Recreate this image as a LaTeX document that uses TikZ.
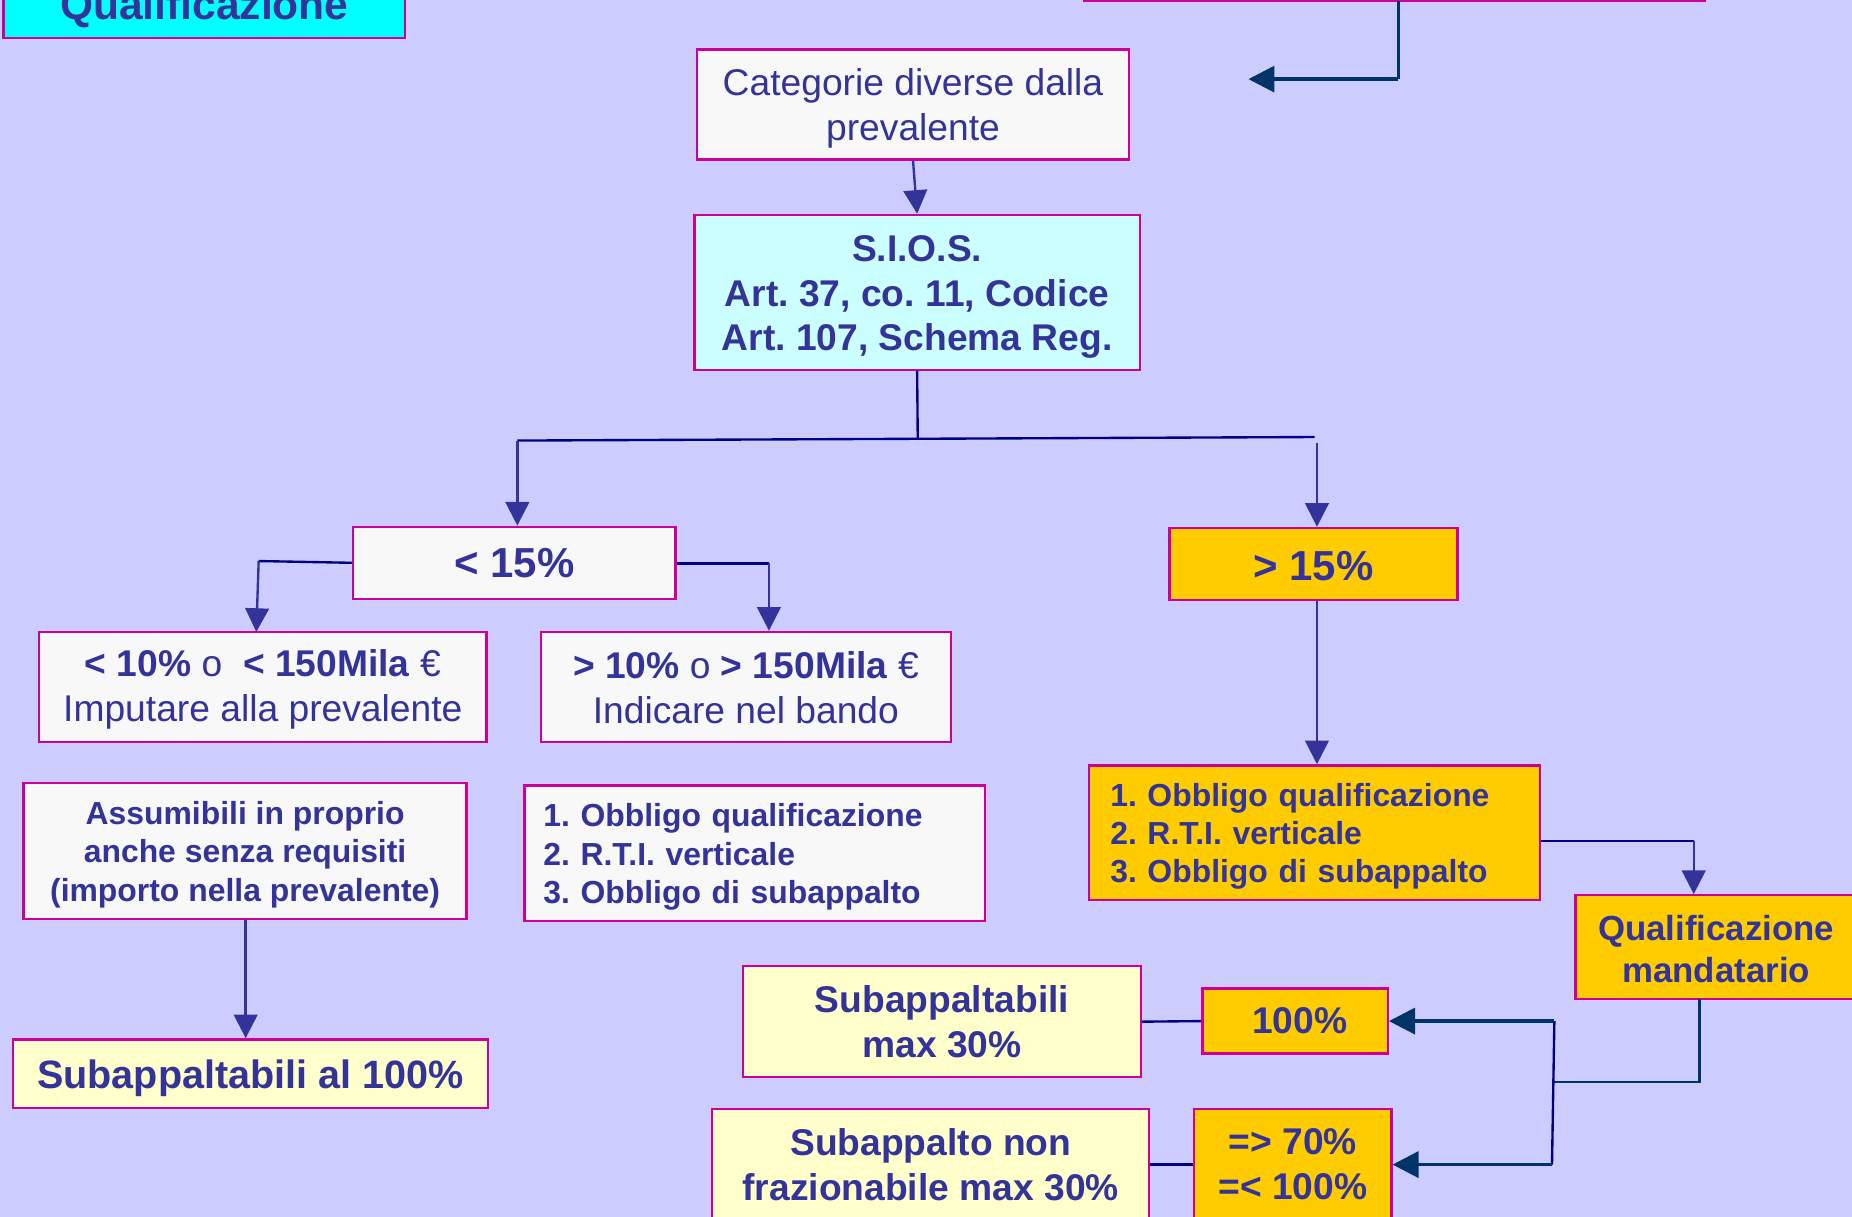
\documentclass[tikz,border=0pt]{standalone}
\usepackage{fontspec}
\setmainfont{Liberation Sans}
\usetikzlibrary{arrows.meta}
\definecolor{bgc}{RGB}{204,204,255}
\definecolor{txtc}{RGB}{51,51,153}
\definecolor{bordc}{RGB}{204,0,153}
\definecolor{whtc}{RGB}{248,248,248}
\definecolor{cyanl}{RGB}{204,255,255}
\definecolor{cyanf}{RGB}{0,255,255}
\definecolor{orgc}{RGB}{255,204,0}
\definecolor{ylwc}{RGB}{255,255,204}
\definecolor{arrc}{RGB}{51,51,153}
\definecolor{linec}{RGB}{0,0,128}
\definecolor{navyc}{RGB}{0,51,102}
\newcommand\myfR{\fontsize{31.5}{38}\selectfont}
\newcommand\myfB{\fontsize{31.5}{38}\selectfont\bfseries}
\newcommand\myfBig{\fontsize{33.5}{40}\selectfont\bfseries}
\newcommand\myfSi{\fontsize{31.5}{38}\selectfont\bfseries}
\newcommand\myfS{\fontsize{27}{32.5}\selectfont\bfseries}
\newcommand\myfL{\fontsize{35.5}{42}\selectfont\bfseries}
\newcommand\myfQ{\fontsize{29.5}{35.5}\selectfont\bfseries}
\newcommand\myfT{\fontsize{36}{42}\selectfont\bfseries}
\frenchspacing
\begin{document}
\begin{tikzpicture}[x=1pt,y=-1pt,
  box/.style={draw=bordc, line width=2pt, rectangle, inner sep=0pt, text=txtc, align=flush center},
  down/.style={execute at begin node={\rule{0pt}{#1em}}},
  down/.default=0.95,
  arr/.style={draw=arrc, line width=2pt, -{Triangle[length=20pt,width=20pt]}},
  narr/.style={draw=navyc, line width=3pt, -{Triangle[length=22pt,width=22pt]}},
  ln/.style={draw=linec, line width=2pt},
  nln/.style={draw=navyc, line width=2pt}]
\useasboundingbox (0,0) rectangle (1568,1030);
\clip (0,0) rectangle (1568,1030);
\fill[bgc] (0,0) rectangle (1568,1030);

% top boxes
\node[box, down, fill=cyanf, minimum width=340pt, minimum height=58pt, font=\myfT] (qtop) at (173,3) {Qualificazione};
\node[box, fill=whtc, minimum width=525pt, minimum height=80pt] (tr) at (1180.5,-39) {};

\node[box, down, fill=whtc, minimum width=366pt, text width=366pt, minimum height=93pt, font=\myfR] (cat) at (773,88.5) {Categorie diverse dalla\\prevalente};
\node[box, down, fill=cyanl, minimum width=377pt, text width=377pt, minimum height=131pt, font=\myfSi] (sios) at (776.5,247.5) {S.I.O.S.\\Art. 37, co. 11, Codice\\Art. 107, Schema Reg.};

\node[box, fill=whtc, minimum width=273pt, minimum height=61pt, font=\myfL] (lt15) at (435.5,476.5) {< 15\%};
\node[box, down=0.82, fill=orgc, minimum width=244pt, minimum height=61pt, font=\myfL] (gt15) at (1112,477.5) {> 15\%};

\node[box, down=0.88, fill=whtc, minimum width=379pt, text width=379pt, minimum height=93pt, font=\myfR] (lt10) at (222.5,581.5) {\textbf{< 10\%} o\ \ \textbf{< 150Mila} €\\Imputare alla prevalente};
\node[box, down=0.76, fill=whtc, minimum width=347pt, text width=347pt, minimum height=93pt, font=\myfR] (gt10) at (631.5,581.5) {\textbf{> 10\%} o \textbf{> 150Mila} €\\Indicare nel bando};

\node[box, down, fill=whtc, minimum width=375pt, text width=375pt, minimum height=115pt, font=\myfS] (assum) at (207.5,720.5) {Assumibili in proprio\\anche senza requisiti\\(importo nella prevalente)};
\node[box, down, fill=ylwc, minimum width=402pt, minimum height=58pt, font=\myfBig] (sub100) at (212,909) {Subappaltabili al 100\%};

\node[box, down, fill=whtc, minimum width=390pt, minimum height=115pt, text width=358pt, inner xsep=16pt, align=left, font=\myfS] (llist) at (639,722.5) {1. Obbligo qualificazione\\2. R.T.I. verticale\\3. Obbligo di subappalto};
\node[box, down, fill=orgc, minimum width=382pt, minimum height=114pt, text width=346pt, inner xsep=18pt, align=left, font=\myfS] (olist) at (1113,705) {1. Obbligo qualificazione\\2. R.T.I. verticale\\3. Obbligo di subappalto};

\node[box, down=0.8, fill=orgc, minimum width=238pt, text width=238pt, minimum height=88pt, font=\myfQ] (qm) at (1453,802) {Qualificazione\\mandatario};

\node[box, fill=orgc, minimum width=157pt, minimum height=55pt, font=\myfB] (h100) at (1096.5,864.5) {\hspace*{8pt}100\%};
\node[box, fill=ylwc, minimum width=337pt, text width=337pt, minimum height=94pt, font=\myfB] (sub30) at (797.5,865) {Subappaltabili\\max 30\%};
\node[box, fill=orgc, minimum width=167pt, text width=167pt, minimum height=94pt, font=\myfB] (h70) at (1094.5,986) {=> 70\%\\=< 100\%};
\node[box, fill=ylwc, minimum width=370pt, text width=370pt, minimum height=94pt, font=\myfB] (subnon) at (788,986) {Subappalto non\\frazionabile max 30\%};

% coordinates
\coordinate (t0) at (1184,1);
\coordinate (t1) at (1184,67);
\coordinate (t2) at (1057,67);
\coordinate (j1) at (777,371);
\coordinate (jl) at (438,373);
\coordinate (jr) at (1113,370);
\coordinate (jr2) at (1115,375);
\coordinate (a1) at (219,475);
\coordinate (a2) at (651,477);
\coordinate (o1) at (1434,712);
\coordinate (q1) at (1439,846);
\coordinate (q2) at (1439,916);
\coordinate (q3) at (1316,916);
\coordinate (v1) at (1316,864.5);
\coordinate (v2) at (1314,986);

% connectors
\draw[nln] (t0) -- (t1);
\draw[narr] (t1) -- (t2);
\draw[arr] (cat.south) -- (sios.north);
\draw[ln] (sios.south) -- (j1);
\draw[ln] (jl) -- (jr);
\draw[arr] (jl) -- (jl |- lt15.north);
\draw[arr] (jr2) -- (jr2 |- gt15.north);
\draw[ln] (lt15.west) -- (a1);
\draw[arr] (a1) -- (217,535) coordinate (a1e);
\draw[ln] (lt15.east |- a2) -- (a2);
\draw[arr] (a2) -- (a2 |- gt10.north);
\draw[arr] (assum.south -| 208,0) -- (sub100.north -| 208,0);
\draw[arr] (gt15.south -| 1115,0) -- (olist.north -| 1115,0);
\draw[ln] (olist.east |- o1) -- (o1);
\draw[arr] (o1) -- (o1 |- qm.north);
\draw[nln] (q1) -- (q2) -- (q3);
\draw[ln] (v1) -- (v2);
\draw[narr] (v1) -- (h100.east);
\draw[narr] (v2) -- (h70.east);
\draw[ln] (sub30.east) -- (h100.west);
\draw[ln] (subnon.east) -- (h70.west);
\end{tikzpicture}
\end{document}
